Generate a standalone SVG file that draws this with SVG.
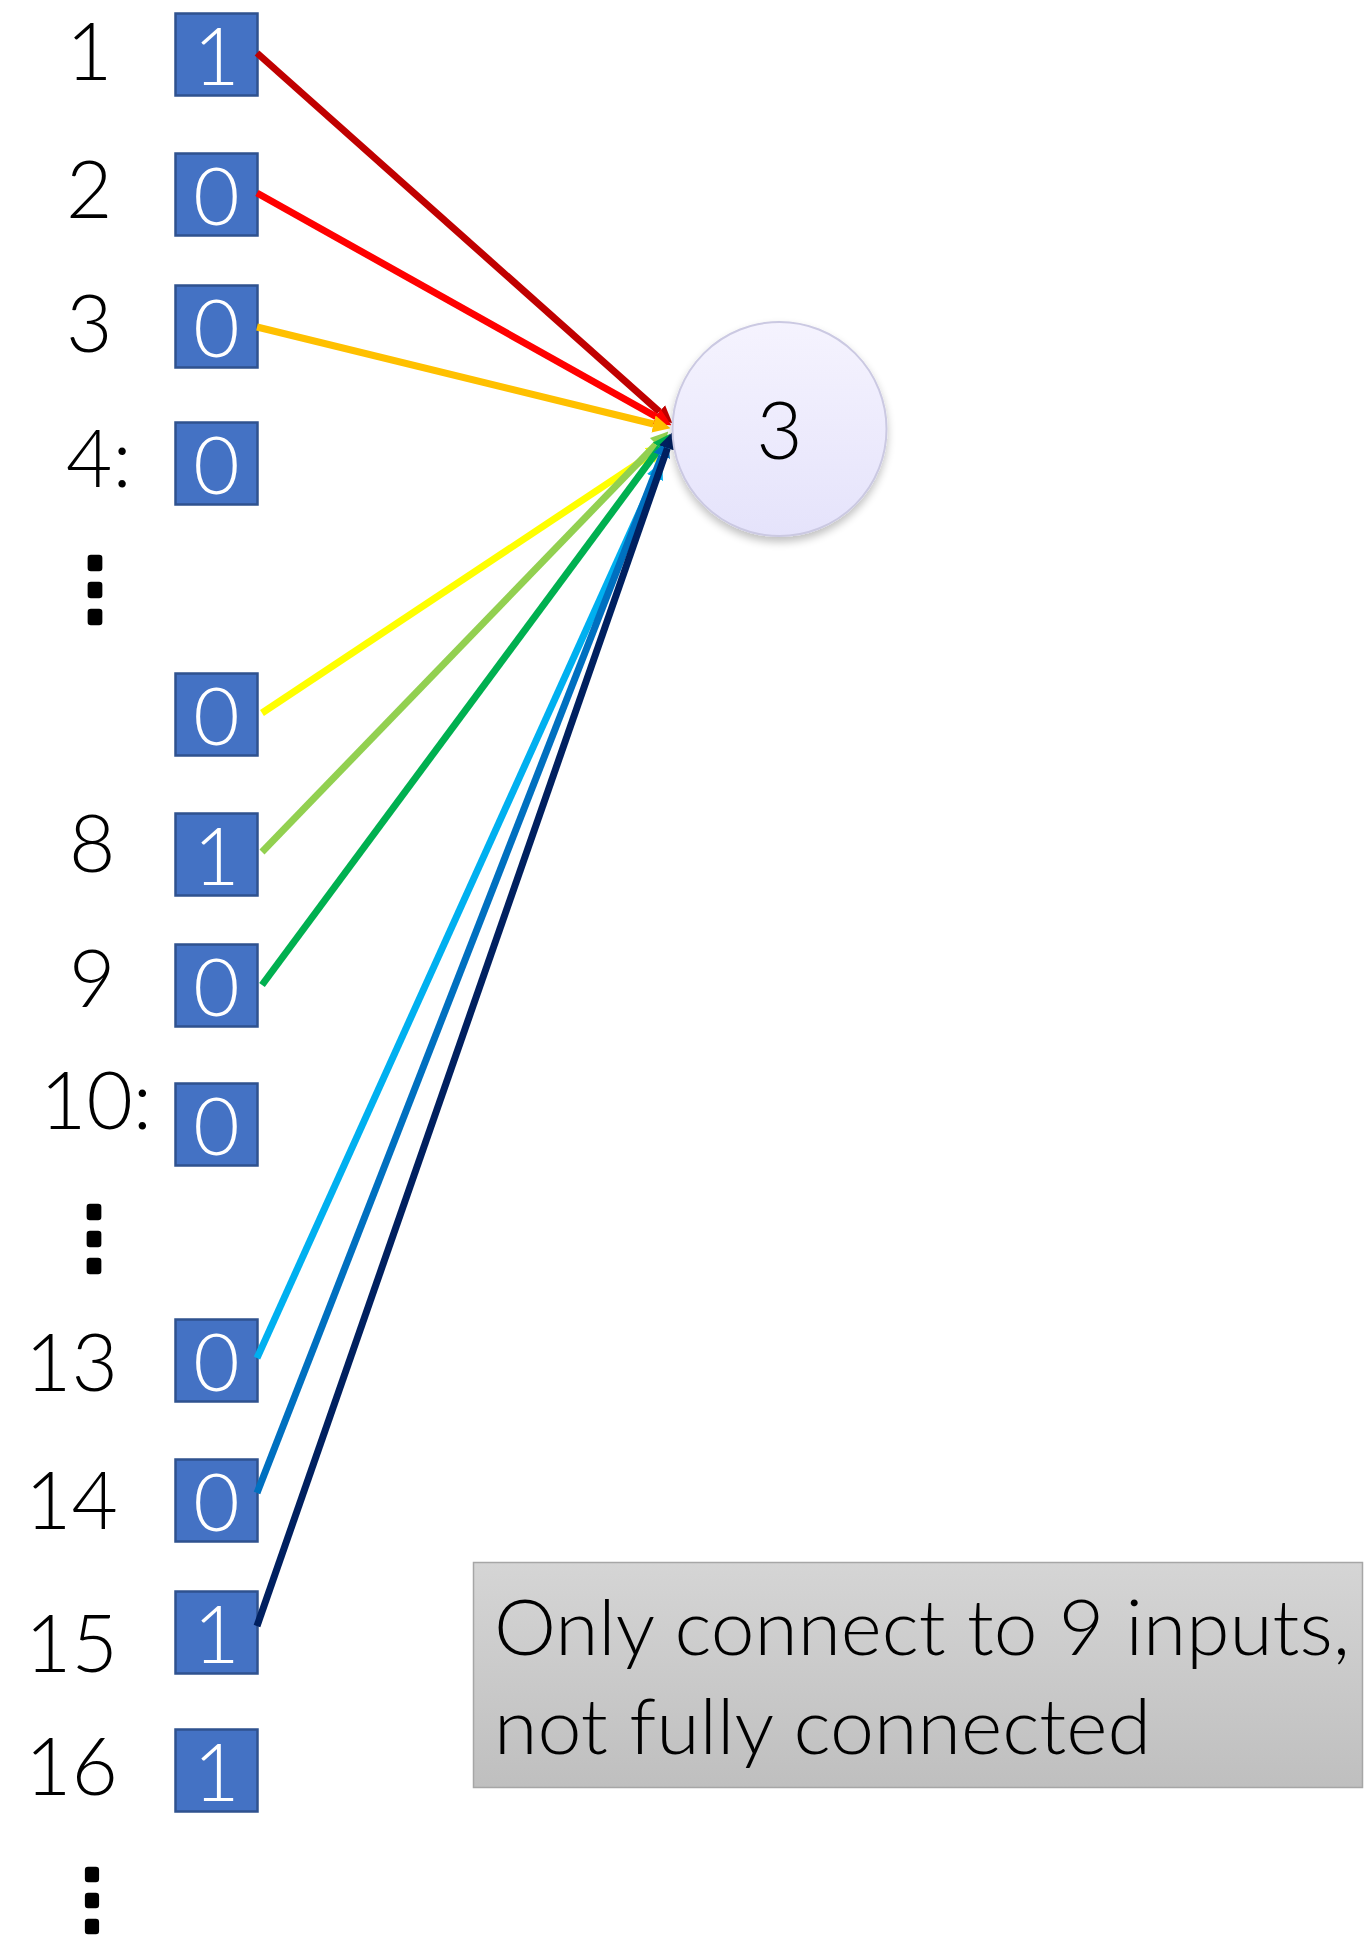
<svg xmlns="http://www.w3.org/2000/svg" width="1367" height="1946" viewBox="0 0 1367 1946">
  <style>
    .lbl { font-family: Lato, "Liberation Sans", sans-serif; font-weight: 300; font-size: 80px; fill: #000; }
    .val { font-family: Lato, "Liberation Sans", sans-serif; font-weight: 300; font-size: 80px; fill: #fff; text-anchor: middle; }
    .cell { fill: #4472C4; stroke: #2F528F; stroke-width: 2.5; }
    .dots { font-family: "Noto Sans CJK JP", "Noto Sans CJK SC", sans-serif; font-weight: bold; font-size: 80px; fill: #000; stroke: #000; stroke-width: 4; stroke-linejoin: round; text-anchor: middle; }
    .note { font-family: Lato, "Liberation Sans", sans-serif; font-weight: 300; font-size: 76px; fill: #000; }
    .edge { stroke-width: 7; fill: none; }
  </style>
  <defs>
    <linearGradient id="nodeFill" x1="0" y1="0" x2="0" y2="1">
      <stop offset="0" stop-color="#F5F3FE"/>
      <stop offset="1" stop-color="#E5E3FB"/>
    </linearGradient>
    <linearGradient id="noteFill" x1="0" y1="0" x2="0" y2="1">
      <stop offset="0" stop-color="#D5D5D5"/>
      <stop offset="1" stop-color="#BFBFBF"/>
    </linearGradient>
    <filter id="shadow" x="-20%" y="-20%" width="140%" height="150%">
      <feGaussianBlur in="SourceAlpha" stdDeviation="4"/>
      <feOffset dy="5" result="b"/>
      <feComponentTransfer><feFuncA type="linear" slope="0.25"/></feComponentTransfer>
      <feMerge><feMergeNode/><feMergeNode in="SourceGraphic"/></feMerge>
    </filter>
    <marker id="aC00000" viewBox="0 0 10 10" refX="0" refY="5" markerWidth="2.5" markerHeight="2.7" orient="auto"><path d="M0,0 L10,5 L0,10 z" fill="#C00000"/></marker>
    <marker id="aFF0000" viewBox="0 0 10 10" refX="0" refY="5" markerWidth="2.5" markerHeight="2.7" orient="auto"><path d="M0,0 L10,5 L0,10 z" fill="#FF0000"/></marker>
    <marker id="aFFC000" viewBox="0 0 10 10" refX="0" refY="5" markerWidth="2.5" markerHeight="2.7" orient="auto"><path d="M0,0 L10,5 L0,10 z" fill="#FFC000"/></marker>
    <marker id="aFFFF00" viewBox="0 0 10 10" refX="0" refY="5" markerWidth="2.5" markerHeight="2.7" orient="auto"><path d="M0,0 L10,5 L0,10 z" fill="#FFFF00"/></marker>
    <marker id="a92D050" viewBox="0 0 10 10" refX="0" refY="5" markerWidth="2.5" markerHeight="2.7" orient="auto"><path d="M0,0 L10,5 L0,10 z" fill="#92D050"/></marker>
    <marker id="a00B050" viewBox="0 0 10 10" refX="0" refY="5" markerWidth="2.5" markerHeight="2.7" orient="auto"><path d="M0,0 L10,5 L0,10 z" fill="#00B050"/></marker>
    <marker id="a00B0F0" viewBox="0 0 10 10" refX="0" refY="5" markerWidth="2.5" markerHeight="2.7" orient="auto"><path d="M0,0 L10,5 L0,10 z" fill="#00B0F0"/></marker>
    <marker id="a0070C0" viewBox="0 0 10 10" refX="0" refY="5" markerWidth="2.5" markerHeight="2.7" orient="auto"><path d="M0,0 L10,5 L0,10 z" fill="#0070C0"/></marker>
    <marker id="a002060" viewBox="0 0 10 10" refX="0" refY="5" markerWidth="2.5" markerHeight="2.7" orient="auto"><path d="M0,0 L10,5 L0,10 z" fill="#002060"/></marker>
  </defs>

  <rect width="1367" height="1946" fill="#fff"/>

  <!-- index labels -->
  <g id="labels">
    <text class="lbl" x="66" y="80">1</text>
    <text class="lbl" x="66" y="218">2</text>
    <text class="lbl" x="66" y="352">3</text>
    <text class="lbl" x="66" y="487">4:</text>
    <text class="lbl" x="69" y="872">8</text>
    <text class="lbl" x="69" y="1007">9</text>
    <text class="lbl" x="40" y="1129">10:</text>
    <text class="lbl" x="25" y="1391">13</text>
    <text class="lbl" x="25" y="1529">14</text>
    <text class="lbl" x="25" y="1672">15</text>
    <text class="lbl" x="25" y="1795">16</text>
    <text class="dots" x="95" y="615">⋮</text>
    <text class="dots" x="94" y="1264">⋮</text>
    <text class="dots" x="92" y="1924" style="font-size:76px">⋮</text>
  </g>

  <!-- input cells -->
  <g id="in1"><rect class="cell" x="175.5" y="13.5" width="82" height="82"/><text class="val" x="216.5" y="85">1</text></g>
  <g id="in2"><rect class="cell" x="175.5" y="153.5" width="82" height="82"/><text class="val" x="216.5" y="225">0</text></g>
  <g id="in3"><rect class="cell" x="175.5" y="285.5" width="82" height="82"/><text class="val" x="216.5" y="357">0</text></g>
  <g id="in4"><rect class="cell" x="175.5" y="422.5" width="82" height="82"/><text class="val" x="216.5" y="494">0</text></g>
  <g id="in7"><rect class="cell" x="175.5" y="673.5" width="82" height="82"/><text class="val" x="216.5" y="745">0</text></g>
  <g id="in8"><rect class="cell" x="175.5" y="813.5" width="82" height="82"/><text class="val" x="216.5" y="885">1</text></g>
  <g id="in9"><rect class="cell" x="175.5" y="944.5" width="82" height="82"/><text class="val" x="216.5" y="1016">0</text></g>
  <g id="in10"><rect class="cell" x="175.5" y="1083.5" width="82" height="82"/><text class="val" x="216.5" y="1155">0</text></g>
  <g id="in13"><rect class="cell" x="175.5" y="1319.5" width="82" height="82"/><text class="val" x="216.5" y="1391">0</text></g>
  <g id="in14"><rect class="cell" x="175.5" y="1459.5" width="82" height="82"/><text class="val" x="216.5" y="1531">0</text></g>
  <g id="in15"><rect class="cell" x="175.5" y="1591.5" width="82" height="82"/><text class="val" x="216.5" y="1663">1</text></g>
  <g id="in16"><rect class="cell" x="175.5" y="1729.5" width="82" height="82"/><text class="val" x="216.5" y="1801">1</text></g>

  <!-- connections into the neuron -->
  <g id="connectors">
    <line class="edge" x1="257" y1="53" x2="659.3" y2="411.7" stroke="#C00000" marker-end="url(#aC00000)"/>
    <line class="edge" x1="257" y1="193" x2="656.2" y2="416.7" stroke="#FF0000" marker-end="url(#aFF0000)"/>
    <line class="edge" x1="257" y1="327" x2="653.5" y2="424.0" stroke="#FFC000" marker-end="url(#aFFC000)"/>
    <line class="edge" x1="262" y1="713" x2="649.8" y2="455.4" stroke="#FFFF00" marker-end="url(#aFFFF00)"/>
    <line class="edge" x1="262" y1="852" x2="656.2" y2="444.2" stroke="#92D050" marker-end="url(#a92D050)"/>
    <line class="edge" x1="262" y1="985" x2="659.9" y2="447.7" stroke="#00B050" marker-end="url(#a00B050)"/>
    <line class="edge" x1="257" y1="1358" x2="655.0" y2="477.5" stroke="#00B0F0" marker-end="url(#a00B0F0)"/>
    <line class="edge" x1="257" y1="1493" x2="661.8" y2="455.8" stroke="#0070C0" marker-end="url(#a0070C0)"/>
    <line class="edge" x1="257" y1="1626" x2="667.4" y2="448.1" stroke="#002060" marker-end="url(#a002060)"/>
  </g>

  <!-- neuron -->
  <g id="neuron" filter="url(#shadow)">
    <circle cx="779.5" cy="429" r="107" fill="url(#nodeFill)" stroke="#CBC9E2" stroke-width="2"/>
    <text class="val" x="779.5" y="459" style="fill:#000">3</text>
  </g>

  <!-- note -->
  <g id="note">
    <rect x="473.5" y="1562.5" width="889" height="225" fill="url(#noteFill)" stroke="#A6A6A6" stroke-width="1.5"/>
    <text class="note" x="494" y="1655" textLength="856" lengthAdjust="spacingAndGlyphs">Only connect to 9 inputs,</text>
    <text class="note" x="494" y="1754" textLength="657" lengthAdjust="spacingAndGlyphs">not fully connected</text>
  </g>
</svg>
